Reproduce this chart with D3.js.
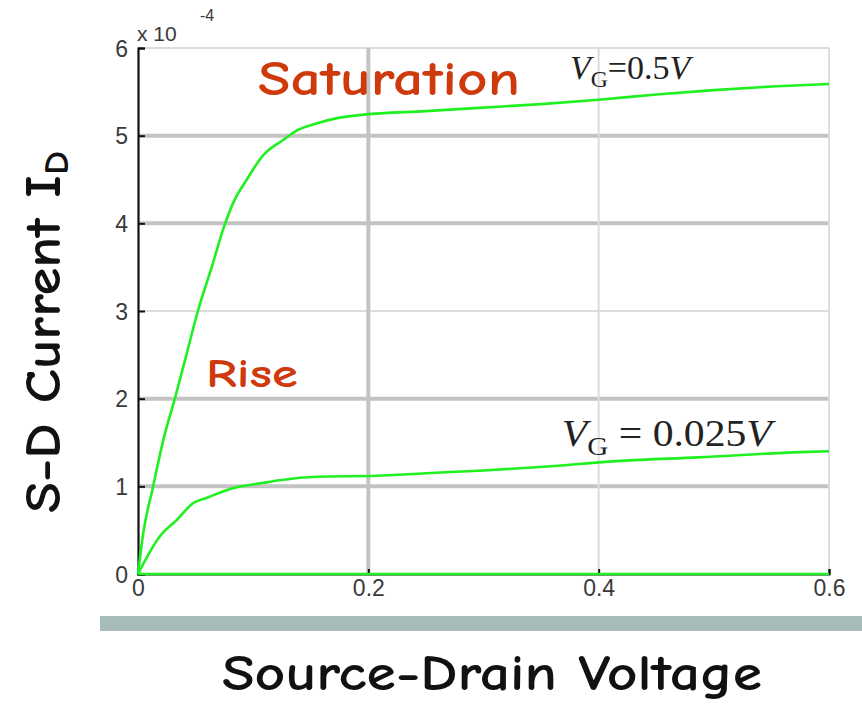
<!DOCTYPE html>
<html>
<head>
<meta charset="utf-8">
<script src="https://cdn.jsdelivr.net/npm/d3@7"></script>
<style>
  html, body { margin: 0; padding: 0; background: #ffffff; }
  svg { display: block; }
</style>
</head>
<body>
<script>
// ---- data (current in units of 1e-4 A, voltage in V) ----
const xTicks = [0, 0.2, 0.4, 0.6];
const xTickLabels = ["0", "0.2", "0.4", "0.6"];
const yTicks = [0, 1, 2, 3, 4, 5, 6];
const yTickLabels = ["0", "1", "2", "3", "4", "5", "6"];

const vdsHigh = [0, 0.0046, 0.013, 0.022, 0.032, 0.042, 0.052, 0.064, 0.0757, 0.084, 0.094, 0.109, 0.126, 0.138, 0.155, 0.173, 0.196, 0.25, 0.3, 0.35, 0.4, 0.45, 0.5, 0.55, 0.6];
const idHigh  = [0, 0.47,   0.99,  1.53,  2.0,   2.5,   3.0,   3.5,   4.0,    4.27,  4.49,  4.78,  4.95,  5.06,  5.14,  5.20,  5.24,  5.28, 5.32, 5.36, 5.41, 5.47, 5.52, 5.56, 5.59];

const vdsLow = [0, 0.019, 0.034, 0.048, 0.06, 0.08, 0.109, 0.123, 0.155, 0.207, 0.25, 0.3, 0.349, 0.419, 0.486, 0.575, 0.6];
const idLow  = [0, 0.43,  0.62,  0.81,  0.87, 0.97, 1.04,  1.07,  1.11,  1.12,  1.15, 1.18, 1.22, 1.29,  1.33,  1.39,  1.40];

const vdsZero = [0, 0.6];
const idZero  = [0, 0];

const heavyGridY = [1, 2, 4, 5];
const lightGridY = [3, 6];
const heavyGridX = [0.2];
const lightGridX = [0.4, 0.6];

const labelHigh = { sub: "G", value: "=0.5", x: 0.375, y: 5.65 };
const labelLow  = { sub: "G", value: " = 0.025", x: 0.368, y: 1.46 };

// ---- drawing ----
const W = 862, H = 704;
const svg = d3.select("body").append("svg").attr("width", W).attr("height", H);

const x = d3.scaleLinear().domain([0, 0.6]).range([138, 829]);
const y = d3.scaleLinear().domain([0, 6]).range([574, 48]);

// grid
const grid = svg.append("g");
grid.selectAll(".hg").data(heavyGridY).join("line")
  .attr("x1", x(0)).attr("x2", x(0.6))
  .attr("y1", d => y(d)).attr("y2", d => y(d))
  .attr("stroke", "#c3c3c3").attr("stroke-width", 4);
grid.selectAll(".lg").data(lightGridY).join("line")
  .attr("x1", x(0)).attr("x2", x(0.6))
  .attr("y1", d => y(d)).attr("y2", d => y(d))
  .attr("stroke", "#dcdcdc").attr("stroke-width", 2);
grid.selectAll(".hgx").data(heavyGridX).join("line")
  .attr("x1", d => x(d)).attr("x2", d => x(d))
  .attr("y1", y(6)).attr("y2", y(0))
  .attr("stroke", "#c3c3c3").attr("stroke-width", 4);
grid.selectAll(".lgx").data(lightGridX).join("line")
  .attr("x1", d => x(d)).attr("x2", d => x(d))
  .attr("y1", y(6)).attr("y2", y(0))
  .attr("stroke", "#dcdcdc").attr("stroke-width", 2);

// axes
const tickFont = "'Liberation Sans', Arial, sans-serif";
const yAxis = d3.axisLeft(y).tickValues(yTicks)
  .tickFormat((d, i) => yTickLabels[i]).tickSize(-7).tickPadding(10);
const gy = svg.append("g").attr("transform", `translate(${x(0)},0)`).call(yAxis);
gy.select(".domain").attr("stroke", "#111").attr("stroke-width", 2.2);
gy.selectAll(".tick line").attr("stroke", "#111").attr("stroke-width", 2);
gy.selectAll(".tick text").attr("font-family", tickFont).attr("font-size", 23)
  .attr("fill", "#3a3a3a").attr("dy", "0.36em");

const xAxis = d3.axisBottom(x).tickValues(xTicks)
  .tickFormat((d, i) => xTickLabels[i]).tickSize(-5).tickPadding(6);
const gx = svg.append("g").attr("transform", `translate(0,${y(0)})`).call(xAxis);
gx.select(".domain").attr("stroke", "#111").attr("stroke-width", 2);
gx.selectAll(".tick line").attr("stroke", "#111").attr("stroke-width", 2);
gx.selectAll(".tick text").attr("font-family", tickFont).attr("font-size", 23)
  .attr("fill", "#3a3a3a");

// exponent
svg.append("text").attr("x", 137).attr("y", 41)
  .attr("font-family", tickFont).attr("font-size", 21).attr("fill", "#3a3a3a").text("x 10");
svg.append("text").attr("x", 200).attr("y", 21)
  .attr("font-family", tickFont).attr("font-size", 16).attr("fill", "#3a3a3a").text("-4");

// curves
const line = d3.line().x(d => x(d[0])).y(d => y(d[1])).curve(d3.curveMonotoneX);
const series = [
  d3.zip(vdsZero, idZero),
  d3.zip(vdsLow, idLow),
  d3.zip(vdsHigh, idHigh)
];
svg.append("g").selectAll("path").data(series).join("path")
  .attr("d", line).attr("fill", "none")
  .attr("stroke", "#1ff01f").attr("stroke-width", 2.6).attr("stroke-linejoin", "round");

// VG labels
const serif = "'Liberation Serif', 'Times New Roman', serif";
function vgLabel(lab, size, len) {
  const t = svg.append("text").attr("x", x(lab.x)).attr("y", y(lab.y))
    .attr("font-family", serif).attr("font-size", size).attr("fill", "#222");
  if (len) t.attr("textLength", len).attr("lengthAdjust", "spacingAndGlyphs");
  t.append("tspan").attr("font-style", "italic").text("V");
  t.append("tspan").attr("font-size", size * 0.7).attr("dy", size * 0.25).text(lab.sub);
  t.append("tspan").attr("dy", -size * 0.25).text(lab.value);
  t.append("tspan").attr("font-style", "italic").text("V");
}
vgLabel(labelHigh, 34, null);
vgLabel(labelLow, 37, 210);

// annotations
const comic = "'Comic Sans MS', 'Comic Neue', 'Open Sans', sans-serif";
svg.append("text").attr("x", 258).attr("y", 95)
  .attr("font-family", comic).attr("font-size", 48).attr("font-weight", 600)
  .attr("fill", "#cf3a0c").attr("textLength", 262).attr("lengthAdjust", "spacingAndGlyphs")
  .text("Saturation");
svg.append("text").attr("x", 206).attr("y", 387)
  .attr("font-family", comic).attr("font-size", 40).attr("font-weight", 600)
  .attr("fill", "#cf3a0c").attr("textLength", 92).attr("lengthAdjust", "spacingAndGlyphs")
  .text("Rise");

// bottom bar
svg.append("rect").attr("x", 100).attr("y", 616).attr("width", 762).attr("height", 15)
  .attr("fill", "#a8bbbb");

// axis titles
svg.append("text").attr("x", 222).attr("y", 690)
  .attr("font-family", comic).attr("font-size", 50).attr("font-weight", 700)
  .attr("fill", "#111").attr("textLength", 540).attr("lengthAdjust", "spacingAndGlyphs")
  .text("Source-Drain Voltage");

const yt = svg.append("text").attr("transform", "translate(60,513) rotate(-90)")
  .attr("font-family", comic).attr("font-size", 50).attr("font-weight", 700)
  .attr("fill", "#111").attr("textLength", 362).attr("lengthAdjust", "spacingAndGlyphs");
yt.append("tspan").text("S-D Current I");
yt.append("tspan").attr("font-size", 34).attr("dy", 8).text("D");
</script>
</body>
</html>
